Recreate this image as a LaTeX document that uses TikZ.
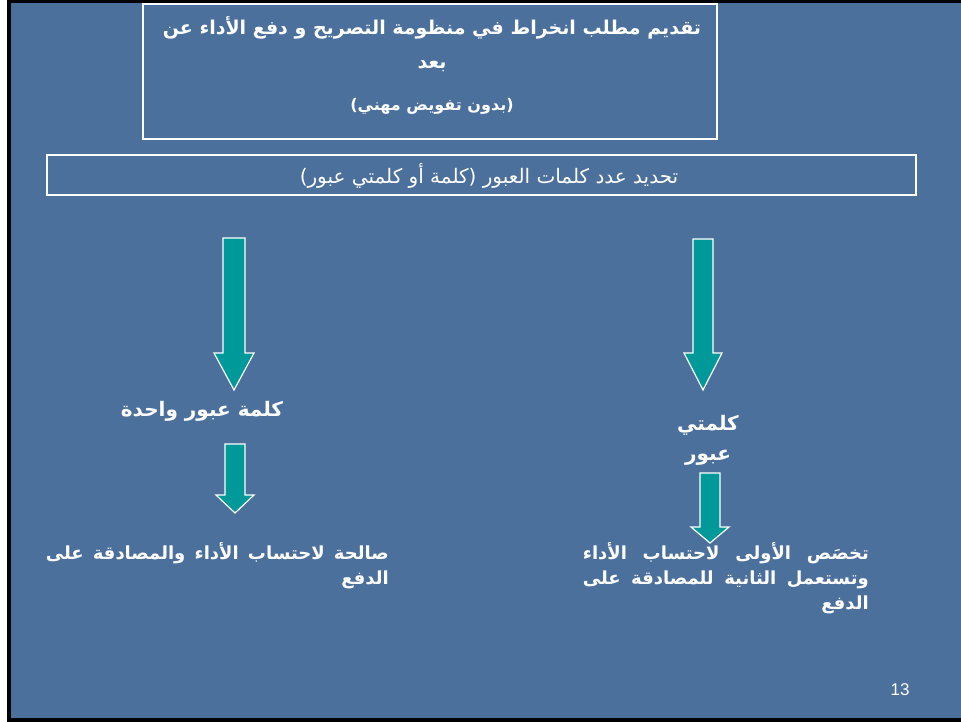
\documentclass[tikz,border=0pt]{standalone}
\usepackage{fontspec}
\setmainfont{Liberation Sans}
\newfontfamily\arabicfont[Script=Arabic]{DejaVu Sans}
\TeXXeTstate=1
\definecolor{slide}{RGB}{76,112,156}
\definecolor{arrowteal}{RGB}{0,153,153}

\begin{document}
\begin{tikzpicture}[x=1pt,y=-1pt,
  every node/.style={text=white, inner sep=0pt},
  box/.style={draw=white, line width=1.5pt},
  tealarrow/.style={fill=arrowteal, draw=white, line width=1.2pt, line join=miter},
  big/.style={font=\arabicfont\bfseries\fontsize{19}{34}\selectfont},
  plain/.style={font=\arabicfont\fontsize{20}{22}\selectfont},
  note/.style={font=\arabicfont\bfseries\fontsize{18}{25}\selectfont, align=right}]
  \useasboundingbox (0,0) rectangle (961,722);
  % slide background
  \fill[white] (0,0) rectangle (961,722);
  \fill[slide] (7,0) rectangle (961,722);
  \fill[black] (7,0) rectangle (11,722);
  \fill[black] (7,0) rectangle (961,3);
  \fill[black] (7,718) rectangle (961,722);
  % boxes
  \draw[box] (143,4) rectangle (717,139);
  \node (req) [big, align=center] at (432,65)
    {\beginR تقديم مطلب انخراط في منظومة التصريح و دفع الأداء عن\endR\\
     \beginR بعد\endR\\[8pt]
     {\fontsize{16}{18}\selectfont\beginR (بدون تفويض مهني)\endR}};
  \draw[box] (47,155) rectangle (916,195);
  \node (count) [plain] at (489,176)
    {\beginR تحديد عدد كلمات العبور (كلمة أو كلمتي عبور)\endR};
  % labels
  \node (one) [big, font=\arabicfont\bfseries\fontsize{20}{24}\selectfont] at (202,411)
    {\beginR كلمة عبور واحدة\endR};
  \node (two) [big, align=center, font=\arabicfont\bfseries\fontsize{20}{30}\selectfont] at (708,440)
    {\beginR كلمتي\endR\\ \beginR عبور\endR};
  \node (oneuse) [note, anchor=north east] at (389,542)
    {\hbox to 343pt{\beginR صالحة\hfill لاحتساب\hfill الأداء\hfill والمصادقة\hfill على\endR}\\
     \beginR الدفع\endR};
  \node (twouse) [note, anchor=north east] at (869,542)
    {\hbox to 286pt{\beginR تخصَص\hfill الأولى\hfill لاحتساب\hfill الأداء\endR}\\
     \hbox to 286pt{\beginR وتستعمل\hfill الثانية\hfill للمصادقة\hfill على\endR}\\
     \beginR الدفع\endR};
  \node (page) [font=\fontsize{17}{20}\selectfont] at (900,690) {13};
  % arrows
  \foreach \cx/\ya/\yb/\yc/\hw in {234/238/353/390/11, 235/444/495/513/10,
                                   703/239/353/390/10, 710/473/527/543/10}
    \draw[tealarrow] (\cx-\hw,\ya) -- (\cx+\hw,\ya) -- (\cx+\hw,\yb) -- (\cx+\hw+9,\yb)
      -- (\cx,\yc) -- (\cx-\hw-9,\yb) -- (\cx-\hw,\yb) -- cycle;
\end{tikzpicture}
\end{document}
